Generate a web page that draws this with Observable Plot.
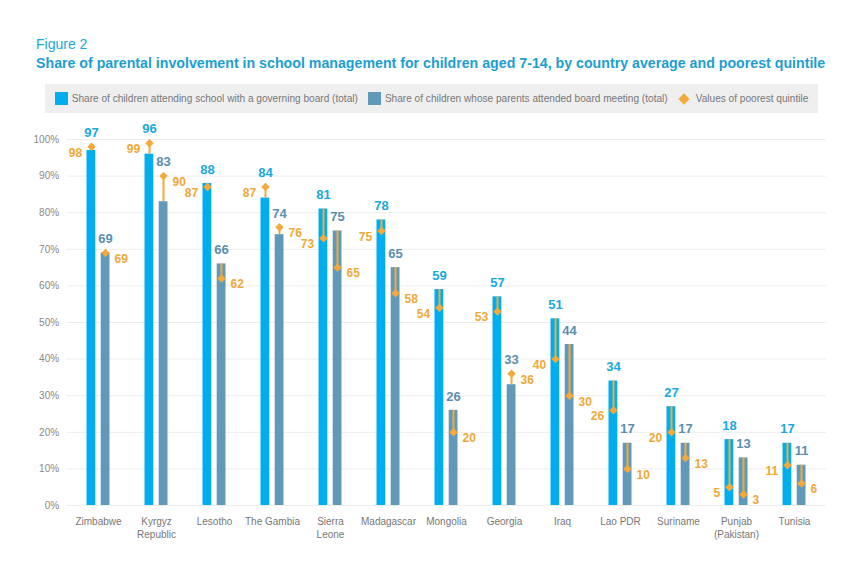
<!DOCTYPE html>
<html>
<head>
<meta charset="utf-8">
<script src="https://cdn.jsdelivr.net/npm/d3@7"></script>
<script src="https://cdn.jsdelivr.net/npm/@observablehq/plot@0.6"></script>
<style>
  html, body { margin: 0; padding: 0; background: #fff; }
  body { width: 864px; height: 574px; position: relative; overflow: hidden; font-family: "Liberation Sans", Arial, sans-serif; }
  #fig { position: absolute; left: 36px; top: 35px; font-size: 14px; line-height: 18px; color: #22A8DC; }
  #title { position: absolute; left: 36px; top: 54px; font-size: 14.2px; line-height: 18px; font-weight: bold; color: #1C9ED2; white-space: nowrap; }
  #legend { position: absolute; left: 45px; top: 84px; width: 773px; height: 29px; background: #EFEFEF;
            display: flex; align-items: center; justify-content: center; font-size: 10.1px; color: #777; white-space: nowrap; }
  .sw { display: inline-block; width: 13px; height: 13px; margin-right: 4px; }
  .item { display: flex; align-items: center; margin: 0 5px; }
  .dia { display: inline-block; width: 8px; height: 8px; background: #F4A93A; transform: rotate(45deg); margin-right: 8px; margin-left: 2px; }
  #chart { position: absolute; left: 0; top: 118px; }
</style>
</head>
<body>
<div id="fig">Figure 2</div>
<div id="title">Share of parental involvement in school management for children aged 7-14, by country average and poorest quintile</div>
<div id="legend">
  <span class="item"><span class="sw" style="background:#00AEEF"></span>Share of children attending school with a governing board (total)</span>
  <span class="item"><span class="sw" style="background:#6199B8"></span>Share of children whose parents attended board meeting (total)</span>
  <span class="item"><span class="dia"></span>Values of poorest quintile</span>
</div>
<div id="chart"></div>
<script>
const countries = ["Zimbabwe","Kyrgyz Republic","Lesotho","The Gambia","Sierra Leone","Madagascar","Mongolia","Georgia","Iraq","Lao PDR","Suriname","Punjab (Pakistan)","Tunisia"];
const countryLabels = ["Zimbabwe","Kyrgyz\nRepublic","Lesotho","The Gambia","Sierra\nLeone","Madagascar","Mongolia","Georgia","Iraq","Lao PDR","Suriname","Punjab\n(Pakistan)","Tunisia"];
const boardTotal    = [97, 96, 88, 84, 81, 78, 59, 57, 51, 34, 27, 18, 17];
const boardPoorest  = [98, 99, 87, 87, 73, 75, 54, 53, 40, 26, 20, 5, 11];
const meetTotal     = [69, 83, 66, 74, 75, 65, 26, 33, 44, 17, 17, 13, 11];
const meetPoorest   = [69, 90, 62, 76, 65, 58, 20, 36, 30, 10, 13, 3, 6];
const yTicks = [0,10,20,30,40,50,60,70,80,90,100];

const BLUE = "#00AEEF", GREY = "#6199B8", ORANGE = "#F4A93A";
const BLUE_T = "#17A9E1", GREY_T = "#5A8FB0", ORANGE_T = "#F0A836";

const rows = countries.map((c, i) => ({
  country: c, bt: boardTotal[i], bp: boardPoorest[i], mt: meetTotal[i], mp: meetPoorest[i]
}));
const labelOf = new Map(countries.map((c, i) => [c, countryLabels[i]]));

const OFF = 7;
const chart = Plot.plot({
  width: 864,
  height: 456,
  marginLeft: 66.6,
  marginRight: 38,
  marginTop: 21,
  marginBottom: 69,
  style: { fontFamily: "Liberation Sans, Arial, sans-serif", background: "transparent" },
  x: { domain: countries, padding: 0, label: null },
  y: { domain: [0, 100], label: null },
  marks: [
    Plot.gridY(yTicks, { stroke: "#EDEDED", strokeOpacity: 1 }),
    Plot.axisY(yTicks, { tickSize: 0, tickPadding: 8, tickFormat: d => d + "%", fontSize: 10, fill: "#888" }),
    Plot.axisX({ tickSize: 0, tickPadding: 10, tickFormat: d => labelOf.get(d), fontSize: 10, fill: "#777", lineHeight: 1.3, textAnchor: "middle", lineAnchor: "top" }),
    Plot.barY(rows, { x: "country", y: "bt", fill: BLUE, insetLeft: 17.5, insetRight: 31.7 }),
    Plot.barY(rows, { x: "country", y: "mt", fill: GREY, insetLeft: 31.7, insetRight: 17.5 }),
    Plot.ruleX(rows, { x: "country", y1: "bt", y2: "bp", dx: -OFF, stroke: ORANGE, strokeWidth: 2 }),
    Plot.ruleX(rows, { x: "country", y1: "mt", y2: "mp", dx: OFF, stroke: ORANGE, strokeWidth: 2 }),
    Plot.dot(rows, { x: "country", y: "bp", dx: -OFF, symbol: "diamond2", r: 3.8, fill: ORANGE, stroke: null }),
    Plot.dot(rows, { x: "country", y: "mp", dx: OFF, symbol: "diamond2", r: 3.8, fill: ORANGE, stroke: null }),
    Plot.text(rows, { x: "country", y: d => Math.max(d.bt, d.bp), text: d => String(d.bt), dx: -OFF, dy: -14, fill: BLUE_T, fontSize: 13, fontWeight: "bold" }),
    Plot.text(rows, { x: "country", y: d => Math.max(d.mt, d.mp), text: d => String(d.mt), dx: OFF, dy: -14, fill: GREY_T, fontSize: 13, fontWeight: "bold" }),
    Plot.text(rows, { x: "country", y: "bp", text: d => String(d.bp), dx: -16.3, dy: 6, textAnchor: "end", fill: ORANGE_T, fontSize: 12, fontWeight: "bold" }),
    Plot.text(rows, { x: "country", y: "mp", text: d => String(d.mp), dx: 16, dy: 6, textAnchor: "start", fill: ORANGE_T, fontSize: 12, fontWeight: "bold" })
  ]
});
document.getElementById("chart").appendChild(chart);
</script>
</body>
</html>
